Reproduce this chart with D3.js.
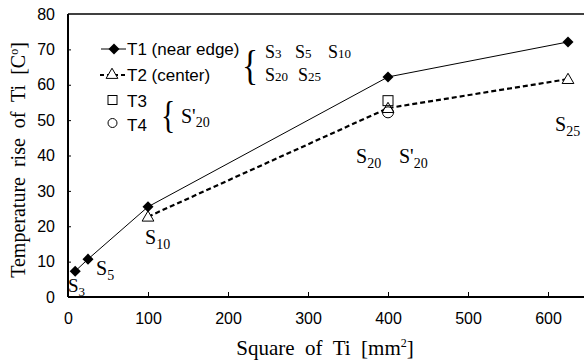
<!DOCTYPE html>
<html>
<head>
<meta charset="utf-8">
<script src="https://cdn.jsdelivr.net/npm/d3@7"></script>
<style>
  body { margin: 0; background: #fff; }
  text { fill: #000; }
</style>
</head>
<body>
<div id="chart-area"></div>
<script>
// data
const t1Area = [9, 25, 100, 400, 625];
const t1Rise = [7.3, 10.7, 25.5, 62.2, 72.1];
const t2Area = [100, 400, 625];
const t2Rise = [22.7, 53.4, 61.6];
const t3Area = [400];
const t3Rise = [55.5];
const t4Area = [400];
const t4Rise = [52.2];
const xTicks = [0, 100, 200, 300, 400, 500, 600];
const yTicks = [0, 10, 20, 30, 40, 50, 60, 70, 80];

const WIDTH = 584, HEIGHT = 361;
const MARGIN = { LEFT: 68, TOP: 14, BOTTOM: 64 };
const SERIF = "'Liberation Serif', 'Times New Roman', serif";
const SANS = "'Liberation Sans', Arial, sans-serif";

const svg = d3.select("#chart-area").append("svg")
  .attr("width", WIDTH).attr("height", HEIGHT);

const x = d3.scaleLinear().domain([0, 650]).range([MARGIN.LEFT, MARGIN.LEFT + 520]);
const y = d3.scaleLinear().domain([0, 80]).range([HEIGHT - MARGIN.BOTTOM, MARGIN.TOP]);

// top frame line
svg.append("line")
  .attr("x1", x(0)).attr("x2", WIDTH)
  .attr("y1", y(80)).attr("y2", y(80))
  .attr("stroke", "#000").attr("stroke-width", 1.4);

// axes
const xAxis = svg.append("g")
  .attr("transform", `translate(0, ${y(0)})`)
  .call(d3.axisBottom(x).tickValues(xTicks).tickSize(-5).tickPadding(16));
const yAxis = svg.append("g")
  .attr("transform", `translate(${x(0)}, 0)`)
  .call(d3.axisLeft(y).tickValues(yTicks).tickSizeInner(-3).tickSizeOuter(0).tickPadding(13));

xAxis.select(".domain").attr("stroke-width", 2.2).attr("d", `M${x(0)},0H${WIDTH}`);
yAxis.select(".domain").attr("stroke-width", 2).attr("d", `M0,${y(0)}V${y(80)}`);
xAxis.selectAll(".tick").filter(d => d === 0).select("line").remove();
yAxis.selectAll(".tick").filter(d => d === 0 || d === 80).select("line").remove();
svg.selectAll(".tick text").attr("font-family", SANS).attr("font-size", "16px").attr("fill", "#000");

// axis titles
svg.append("text")
  .attr("x", 325).attr("y", 355)
  .attr("text-anchor", "middle")
  .attr("font-family", SERIF).attr("font-size", "21px")
  .attr("xml:space", "preserve")
  .html("Square  of  Ti  [mm<tspan dy='-8' font-size='12px'>2</tspan><tspan dy='8'>]</tspan>");

svg.append("text")
  .attr("transform", `translate(25, 160) rotate(-90)`)
  .attr("text-anchor", "middle")
  .attr("font-family", SERIF).attr("font-size", "20px")
  .attr("xml:space", "preserve")
  .html("Temperature  rise  of  Ti  [C<tspan dy='-7' font-size='12px'>o</tspan><tspan dy='7'>]</tspan>");

// lines
const line = d3.line().x(d => x(d[0])).y(d => y(d[1]));
const t1 = t1Area.map((a, i) => [a, t1Rise[i]]);
const t2 = t2Area.map((a, i) => [a, t2Rise[i]]);

svg.append("path").datum(t1).attr("d", line)
  .attr("fill", "none").attr("stroke", "#000").attr("stroke-width", 1);
svg.append("path").datum(t2).attr("d", line)
  .attr("fill", "none").attr("stroke", "#000").attr("stroke-width", 2.2)
  .attr("stroke-dasharray", "5,3");

const diamond = d3.symbol().type(d3.symbolDiamond2).size(78);
const triangle = d3.symbol().type(d3.symbolTriangle).size(60);

svg.selectAll(".tri").data(t2).join("path")
  .attr("transform", d => `translate(${x(d[0])}, ${y(d[1]) + 1})`)
  .attr("d", triangle).attr("fill", "#fff").attr("stroke", "#000").attr("stroke-width", 1);

svg.selectAll(".sq").data(t3Area.map((a, i) => [a, t3Rise[i]])).join("rect")
  .attr("x", d => x(d[0]) - 5).attr("y", d => y(d[1]) - 5)
  .attr("width", 10).attr("height", 10)
  .attr("fill", "none").attr("stroke", "#000").attr("stroke-width", 1);

svg.selectAll(".ci").data(t4Area.map((a, i) => [a, t4Rise[i]])).join("circle")
  .attr("cx", d => x(d[0])).attr("cy", d => y(d[1])).attr("r", 5.5)
  .attr("fill", "none").attr("stroke", "#000").attr("stroke-width", 1);

svg.selectAll(".dia").data(t1).join("path")
  .attr("transform", d => `translate(${x(d[0])}, ${y(d[1])})`)
  .attr("d", diamond).attr("fill", "#000");

// point labels
function sLabel(px, py, main, sub, size, subSize, dy) {
  const t = svg.append("text").attr("x", px).attr("y", py)
    .attr("font-family", SERIF).attr("font-size", size + "px");
  t.append("tspan").text(main);
  t.append("tspan").attr("font-size", subSize + "px").attr("dy", dy).text(sub);
  return t;
}
sLabel(68, 292, "S", "3", 19, 13, 4);
sLabel(96, 275, "S", "5", 20, 14, 5);
sLabel(145, 244, "S", "10", 20, 14, 5);
sLabel(356, 163, "S", "20", 20, 14, 5);
sLabel(399, 163, "S'", "20", 20, 14, 5);
sLabel(555, 131, "S", "25", 20, 14, 5);

// legend
const lg = svg.append("g");
lg.append("line").attr("x1", 101).attr("x2", 126).attr("y1", 49).attr("y2", 49)
  .attr("stroke", "#000").attr("stroke-width", 1);
lg.append("path").attr("transform", "translate(114, 49)").attr("d", diamond).attr("fill", "#000");
lg.append("line").attr("x1", 100).attr("x2", 125).attr("y1", 75).attr("y2", 75)
  .attr("stroke", "#000").attr("stroke-width", 2).attr("stroke-dasharray", "4,3");
lg.append("path").attr("transform", "translate(112, 75)").attr("d", triangle)
  .attr("fill", "#fff").attr("stroke", "#000").attr("stroke-width", 1);
lg.append("rect").attr("x", 108).attr("y", 95.5).attr("width", 9).attr("height", 9)
  .attr("fill", "none").attr("stroke", "#000");
lg.append("circle").attr("cx", 112.5).attr("cy", 123).attr("r", 4.5)
  .attr("fill", "none").attr("stroke", "#000");

const legendText = [["T1 (near edge)", 55], ["T2 (center)", 81], ["T3", 107], ["T4", 131]];
legendText.forEach(([s, yy]) => lg.append("text").attr("x", 127).attr("y", yy)
  .attr("font-family", SANS).attr("font-size", "17px").text(s));

// braces
lg.append("text").attr("transform", "translate(242, 79) scale(0.8, 1)")
  .attr("font-family", SERIF).attr("font-size", "42px").text("{");
lg.append("text").attr("transform", "translate(161, 128) scale(0.8, 1)")
  .attr("font-family", SERIF).attr("font-size", "37px").text("{");

function legLabel(px, py, main, sub) {
  const t = lg.append("text").attr("x", px).attr("y", py)
    .attr("font-family", SERIF).attr("font-size", "18px");
  t.append("tspan").text(main);
  t.append("tspan").attr("font-size", "13px").text(sub);
}
legLabel(265, 58, "S", "3");
legLabel(295, 58, "S", "5");
legLabel(328, 58, "S", "10");
legLabel(265, 81, "S", "20");
legLabel(298, 81, "S", "25");
const sp = lg.append("text").attr("x", 181).attr("y", 123)
  .attr("font-family", SERIF).attr("font-size", "20px");
sp.append("tspan").text("S'");
sp.append("tspan").attr("font-size", "14px").attr("dy", 4).text("20");
</script>
</body>
</html>
